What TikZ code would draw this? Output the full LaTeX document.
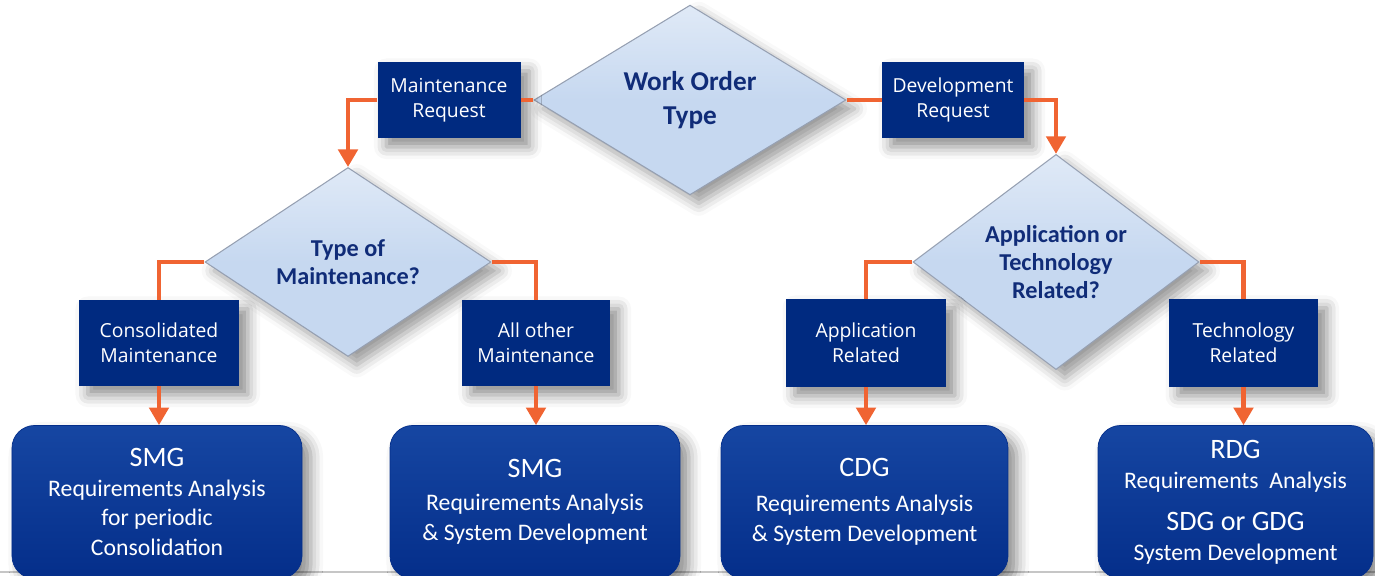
\documentclass[tikz,border=0pt]{standalone}
\usepackage{fontspec}
\setmainfont{Carlito}
\newfontfamily\boxfont{Open Sans}
\usetikzlibrary{shapes.geometric}
\usetikzlibrary{shadows.blur}
\usetikzlibrary{arrows.meta}

\definecolor{wonavy}{RGB}{0,42,128}
\definecolor{wotop}{RGB}{22,70,162}
\definecolor{wobot}{RGB}{4,46,138}
\definecolor{woorange}{RGB}{240,100,50}
\definecolor{wodiam}{RGB}{198,216,240}
\definecolor{woedge}{RGB}{150,160,178}
\definecolor{wotext}{RGB}{16,44,120}

\newcommand\gtitle[1]{{\fontsize{16}{19}\selectfont #1}}

\begin{document}
\begin{tikzpicture}[]
	%\draw[help lines] (0,0) grid (27.5,11.52);
	\useasboundingbox (0,0) rectangle (27.5,11.52);

	\tikzstyle{dnode} = [diamond,draw=woedge,line width=0.6pt,top color=wodiam!55!white,bottom color=wodiam,middle color=wodiam,inner sep=0pt,minimum width=5.72cm,minimum height=3.74cm,text=wotext,font=\bfseries\fontsize{13.8}{16}\selectfont,align=center,blur shadow={shadow xshift=5pt,shadow yshift=-5pt,shadow blur radius=7pt,shadow opacity=40}]
	\tikzstyle{snode} = [rectangle,fill=wonavy,text=white,align=center,inner sep=2pt,font=\boxfont\fontsize{11}{14.2}\selectfont,blur shadow={shadow xshift=5pt,shadow yshift=-5pt,shadow blur radius=7pt,shadow opacity=45}]
	\tikzstyle{gnode} = [rectangle,rounded corners=0.45cm,top color=wotop,bottom color=wobot,draw=wobot,text=white,align=center,minimum height=3.06cm,font=\fontsize{13.5}{17}\selectfont,blur shadow={shadow xshift=5pt,shadow yshift=-5pt,shadow blur radius=7pt,shadow opacity=45}]
	\tikzstyle{oline} = [draw=woorange,line width=2.3pt]
	\tikzstyle{oedge} = [oline,-{Triangle[length=10pt,width=11pt]}]

\draw[gray!45,line width=0.8pt] (0,0.08) -- (27.5,0.08);

% decisions
\node[dnode,minimum width=6.24cm,minimum height=3.72cm,font=\bfseries\fontsize{15.5}{19}\selectfont] (wot) at (13.8,9.52) {Work Order\\Type};
\node[dnode] (tom) at (6.96,6.28) {Type of\\Maintenance?};
\node[dnode] (aot) at (21.12,6.28) {Application or\\Technology\\Related?};

% requests
\node[snode,minimum width=2.86cm,minimum height=1.52cm] (mreq) at (8.98,9.52) {Maintenance\\Request};
\node[snode,minimum width=2.84cm,minimum height=1.52cm] (dreq) at (19.06,9.52) {Development\\Request};

\node[snode,minimum width=3.2cm,minimum height=1.72cm] (cmaint) at (3.18,4.66) {Consolidated\\Maintenance};
\node[snode,minimum width=2.96cm,minimum height=1.72cm] (omaint) at (10.72,4.66) {All other\\Maintenance};
\node[snode,minimum width=3.2cm,minimum height=1.76cm] (arel) at (17.32,4.66) {Application\\Related};
\node[snode,minimum width=2.98cm,minimum height=1.76cm] (trel) at (24.87,4.66) {Technology\\Related};

% groups
\node[gnode,minimum width=5.8cm] (smgc) at (3.14,1.48) {\gtitle{SMG}\\Requirements Analysis\\for periodic\\Consolidation};
\node[gnode,minimum width=5.8cm] (smgs) at (10.7,1.48) {\gtitle{SMG}\\[2pt]Requirements Analysis\\\& System Development};
\node[gnode,minimum width=5.74cm] (cdg) at (17.29,1.48) {\gtitle{CDG}\\[3pt]Requirements Analysis\\\& System Development};
\node[gnode,minimum width=5.5cm] (rdg) at (24.71,1.48) {\gtitle{RDG}\\Requirements\ \ Analysis\\[7pt]\gtitle{SDG or GDG}\\System Development};

\draw[oline] (wot.west) -- (mreq.east);
\draw[oedge] (mreq.west) -| (tom.north);
\draw[oline] (wot.east) -- (dreq.west);
\draw[oedge] (dreq.east) -| (aot.north);

\draw[oline] (tom.west) -| (cmaint.north);
\draw[oline] (tom.east) -| (omaint.north);
\draw[oline] (aot.west) -| (arel.north);
\draw[oline] (aot.east) -| (trel.north);

\draw[oedge] (cmaint.south) -- (cmaint.south |- smgc.north);
\draw[oedge] (omaint.south) -- (omaint.south |- smgs.north);
\draw[oedge] (arel.south) -- (arel.south |- cdg.north);
\draw[oedge] (trel.south) -- (trel.south |- rdg.north);
\end{tikzpicture}
\end{document}
